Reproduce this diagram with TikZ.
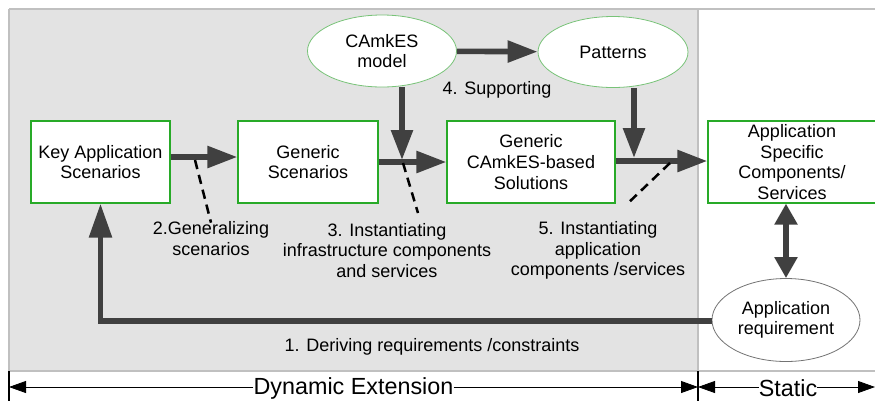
\documentclass[tikz,border=0pt]{standalone}
\usepackage{fontspec}
\setmainfont{Liberation Sans}
\usepackage{xcolor}
\usetikzlibrary{shapes,arrows.meta,positioning,calc}
\definecolor{boxgreen}{RGB}{40,170,40}
\definecolor{cloudgreen}{RGB}{120,195,120}
\definecolor{flowgray}{RGB}{64,64,64}
\definecolor{areagray}{RGB}{227,227,227}
\definecolor{framegray}{RGB}{192,192,192}

\begin{document}
\begin{tikzpicture}[x=0.75pt,y=-0.75pt,
    every node/.style={font=\fontsize{13.5}{15.5}\selectfont, inner sep=0pt, align=center},
    box/.style={draw=boxgreen, fill=white, line width=0.9pt, minimum height=61.5pt},
    cloud/.style={draw=cloudgreen, fill=white, ellipse, line width=0.6pt},
    flow/.style={draw=flowgray, line width=4.2pt, line join=miter, -{Triangle[length=22.5pt,width=15.75pt]}},
    note/.style={draw=black, line width=1.9pt, dash pattern=on 7pt off 4.5pt},
    dim/.style={draw=black, line width=0.6pt, -{Triangle[length=12.75pt,width=9pt]}}]
    \useasboundingbox (0,0) rectangle (875,401);

    % Areas
    \fill[areagray] (9,9) rectangle (698,371);
    \draw[framegray, line width=0.8pt] (9,9) -- (875,9);
    \draw[framegray, line width=0.8pt] (9,371) -- (875,371);
    \draw[framegray, line width=0.8pt] (9,9) -- (9,371);
    \draw[framegray, line width=0.8pt] (698,9) -- (698,371);

    % Boxes
    \node[box, minimum width=104.25pt] (key) at (100.5,162) {Key Application\\Scenarios};
    \node[box, minimum width=105pt] (gen) at (308,162) {Generic\\Scenarios};
    \node[box, minimum width=126pt] (sol) at (531,162) {Generic\\CAmkES-based\\Solutions};
    \node[box, minimum width=126pt] (spec) at (792,162) {Application\\Specific\\Components/\\Services};

    % Ellipses
    \node[cloud, minimum width=111.75pt, minimum height=54pt] (model) at (382,51) {CAmkES\\model};
    \node[cloud, minimum width=112.5pt, minimum height=53.25pt] (pat) at (613,52) {Patterns};
    \node[cloud, draw=black!55, minimum width=111pt, minimum height=62.25pt] (req) at (786,320) {Application\\requirement};

    % Labels
    \node (lab1) at (432,346.5) {1. Deriving requirements /constraints};
    \node (lab2) at (211,238.5) {2.Generalizing\\scenarios};
    \node (lab3) at (387,250.5) {3. Instantiating\\infrastructure components\\and services};
    \node (lab4) at (497,89.5) {4. Supporting};
    \node (lab5) at (598,250.5) {5. Instantiating\\application\\components /services};

    % Junctions
    \coordinate (j1) at (402,160);
    \coordinate (j2) at (634,158);
    \coordinate (n2) at (195,160);
    \coordinate (n3) at (403,163);
    \coordinate (m3) at (418,213);
    \coordinate (n5) at (670,163);
    \coordinate (m5) at (626,205);

    % Flows
    \draw[flow] ([yshift=3.75pt]key.east) -- ([yshift=3.75pt]gen.west);
    \draw[flow] (gen) -- (sol);
    \draw[flow] ([yshift=0.75pt]sol.east) -- ([yshift=0.75pt]spec.west);
    \draw[flow] (model) -- (pat);
    \draw[flow] (j1 |- model.south) -- (j1);
    \draw[flow] (j2 |- pat.south) -- (j2);
    \draw[flow, {Triangle[length=15.75pt,width=16.5pt]}-{Triangle[length=15.75pt,width=16.5pt]}] (req.north |- spec.south) -- (req.north);
    \draw[flow, -{Triangle[length=25.5pt,width=16.5pt]}] ([yshift=-0.75pt]req.west) -| (key.south);

    % Notes
    \draw[note] (n2) -- ([yshift=-1pt]lab2.north);
    \draw[note] (n3) -- (m3);
    \draw[note] (n5) -- (m5);

    % Extent
    \draw[black, line width=0.8pt] (9,371) -- (9,401);
    \draw[black, line width=0.8pt] (698,371) -- (698,401);
    \coordinate (e0) at (9,387);
    \coordinate (e1) at (698,387);
    \coordinate (e2) at (875,387);
    \node[font=\fontsize{17.5}{20}\selectfont] (dyn) at (353.5,388) {Dynamic Extension};
    \node[font=\fontsize{17.5}{20}\selectfont] (sta) at (788,388) {Static};
    \draw[dim] (dyn.west |- e0) -- (e0);
    \draw[dim] (dyn.east |- e0) -- (e1);
    \draw[dim] (sta.west |- e0) -- (e1);
    \draw[dim] (sta.east |- e0) -- (e2);
\end{tikzpicture}
\end{document}
